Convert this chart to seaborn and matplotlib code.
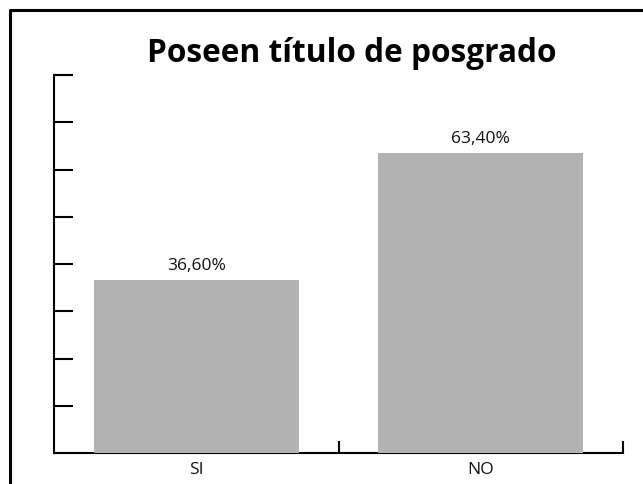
import matplotlib
matplotlib.use("Agg")
import matplotlib.pyplot as plt
import seaborn as sns
import pandas as pd
from matplotlib.lines import Line2D

# data
categories = ["SI", "NO"]
values = [36.6, 63.4]
value_labels = ["36,60%", "63,40%"]
title = "Poseen título de posgrado"

df = pd.DataFrame({"respuesta": categories, "porcentaje": values})

sns.set_theme(style="white")
plt.rcParams["font.family"] = ["Open Sans", "DejaVu Sans"]

fig = plt.figure(figsize=(6.43, 4.85), dpi=100)
ax = fig.add_axes([54 / 643, 1 - 454 / 485, (623 - 54) / 643, (454 - 76) / 485])

sns.barplot(data=df, x="respuesta", y="porcentaje", color="#b3b3b3",
            saturation=1, width=0.72, linewidth=0, ax=ax, zorder=3)

# value labels above the bars
for i, (v, lab) in enumerate(zip(values, value_labels)):
    ax.annotate(lab, (i, v), xytext=(0, 8), textcoords="offset points",
                ha="center", va="baseline", fontsize=12.5, color="#111111")

ax.set_xlim(-0.5, 1.5)
ax.set_ylim(0, 80)
ax.set_yticks(range(0, 81, 10))
ax.set_yticklabels([])
ax.set_xticks([0, 1])
ax.set_xticklabels(categories, fontsize=12.5)
ax.set_xlabel("")
ax.set_ylabel("")

# minor ticks on x mark the category boundaries
ax.set_xticks([0.5, 1.5], minor=True)
ax.tick_params(axis="x", which="major", length=0, pad=6, colors="#111111")
ax.tick_params(axis="x", which="minor", direction="in", length=9, width=1.5, color="black", bottom=True)
ax.tick_params(axis="y", direction="in", length=14, width=1.5, color="black", left=True)

for side in ["top", "right"]:
    ax.spines[side].set_visible(False)
for side in ["left", "bottom"]:
    ax.spines[side].set_color("black")
    ax.spines[side].set_linewidth(1.5)
ax.spines["bottom"].set_bounds(-0.5, 1.5)

fig.text(352 / 643, 1 - 62 / 485, title, ha="center", va="baseline",
         fontsize=22.8, fontweight="bold", color="black")

# outer frame (only top and left edges visible in the reference)
fig.add_artist(Line2D([9.5 / 643, 9.5 / 643, 1.0], [0.0, 1 - 11 / 485, 1 - 11 / 485],
                      transform=fig.transFigure, color="black", linewidth=2.2))

fig.savefig("out.png", dpi=100, facecolor="white")
